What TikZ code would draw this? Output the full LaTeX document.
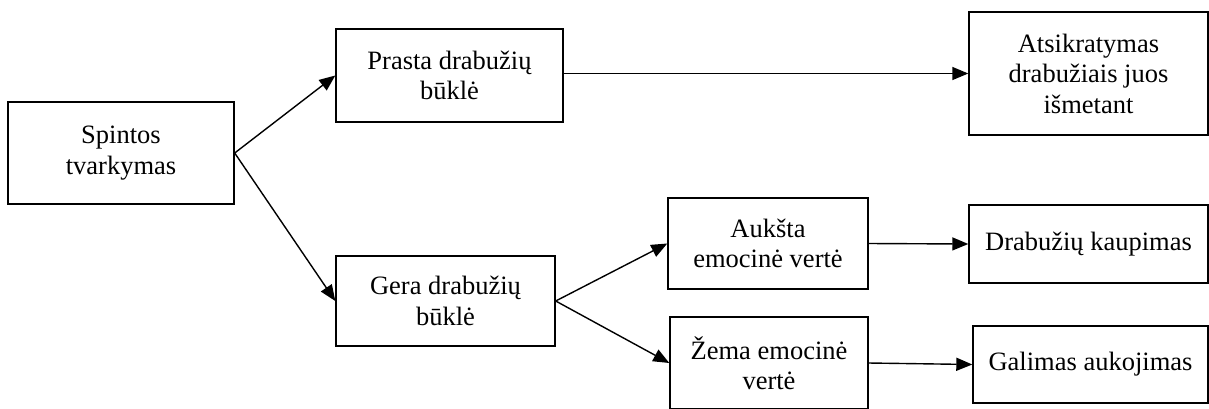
\documentclass[tikz,border=0pt]{standalone}
\usepackage{fontspec}
\setmainfont{Liberation Serif}
\usetikzlibrary{arrows.meta}
\begin{document}
\begin{tikzpicture}[x=1pt,y=-1pt,
  box/.style={draw, line width=1.4pt, inner sep=0pt, align=center,
    font=\fontsize{26.5}{30.5}\selectfont},
  link/.style={line width=1.4pt, -{Triangle[length=16pt,width=13pt]}}]
\useasboundingbox (0,0) rectangle (1209,408);

% boxes placed by centre and size
\node[box, minimum width=226pt, minimum height=102pt] (spintos) at (121,153) {Spintos\\tvarkymas};
\node[box, minimum width=227pt, minimum height=93pt] (prasta) at (449.5,75.5) {Prasta drabužių\\būklė};
\node[box, minimum width=239pt, minimum height=123pt] (atsik) at (1088.5,73.5) {Atsikratymas\\drabužiais juos\\išmetant};
\node[box, minimum width=219pt, minimum height=90pt] (gera) at (445.5,301) {Gera drabužių\\būklė};
\node[box, minimum width=200pt, minimum height=91pt] (auksta) at (768,243.5) {Aukšta\\emocinė vertė};
\node[box, minimum width=198pt, minimum height=92pt] (zema) at (769,363) {Žema emocinė\\vertė};
\node[box, minimum width=239pt, minimum height=78pt] (kaup) at (1088.5,244) {Drabužių kaupimas};
\node[box, minimum width=235pt, minimum height=77pt] (auk) at (1090.5,364.5) {Galimas aukojimas};

% connectors
\draw[link] (spintos.east) -- (prasta.west);
\draw[link] (spintos.east) -- (gera.west);
\draw[link] (prasta.east |- atsik.west) -- (atsik.west);
\draw[link] (gera.east) -- (auksta.west);
\draw[link] (gera.east) -- (zema.west);
\draw[link] (auksta.east) -- (kaup.west);
\draw[link] (zema.east) -- (auk.west);
\end{tikzpicture}
\end{document}
